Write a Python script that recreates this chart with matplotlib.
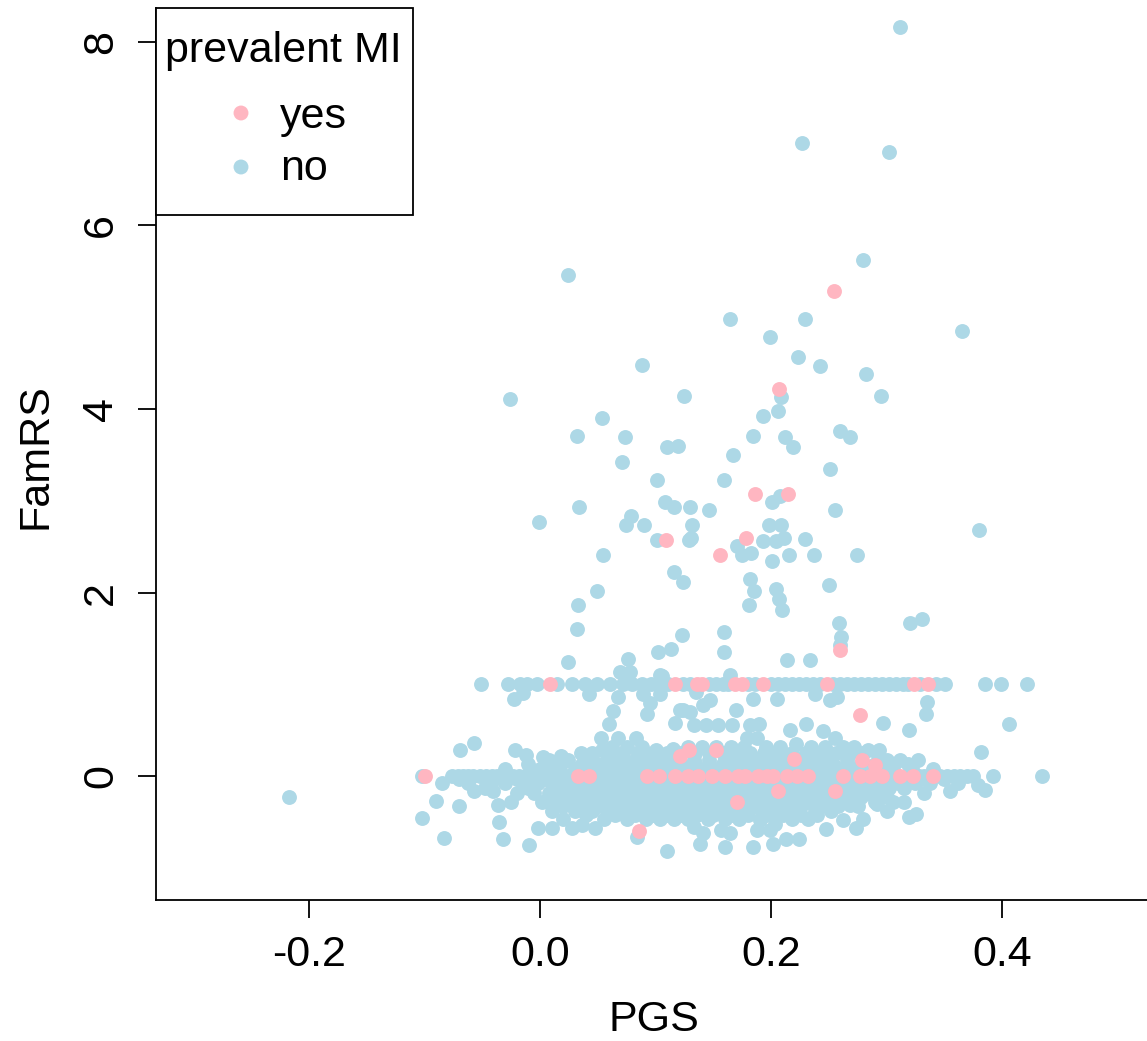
import matplotlib.pyplot as plt
from matplotlib.patches import Rectangle

plt.rcParams['font.family'] = ['Liberation Sans', 'DejaVu Sans']

# ---- data ----
# prevalent MI = no, scattered high FamRS values
no_hi_x = [0.0245, 0.280, 0.1645, 0.2297, 0.199, 0.088, 0.2237, 0.2427, 0.2825, -0.026,
           0.1247, 0.209, 0.2955, 0.0534, 0.1928, 0.2058, 0.0317, 0.0739, 0.1097, 0.1198,
           0.1844, 0.2124, 0.2193, 0.260, 0.268, 0.0707, 0.1674, 0.2508, 0.1013, 0.159,
           0.2078, 0.201, 0.034, 0.108, 0.1158, 0.130, 0.1466, 0.2554, -0.001, 0.0785,
           0.0745, 0.0903, 0.1316, 0.1983, 0.209, 0.1013, 0.1287, 0.131, 0.1928, 0.2043,
           0.2115, 0.2297, 0.0548, 0.1703, 0.1746, 0.1827, 0.2006, 0.2153, 0.2372, 0.2747,
           0.1158, 0.124, 0.1815, 0.1853, 0.204, 0.2072, 0.2093, 0.2505, 0.0494, 0.0326,
           0.181, 0.0323, 0.123, 0.1593, 0.259, 0.261, 0.320, 0.331,
           0.2268, 0.302, 0.3117, 0.365, 0.380,
           0.024, 0.0759, 0.069, 0.078, 0.102, 0.113, 0.106, 0.159, 0.260, 0.2136,
           0.2338, 0.1645, 0.104]
no_hi_y = [5.46, 5.62, 4.98, 4.98, 4.78, 4.48, 4.57, 4.47, 4.38, 4.11,
           4.14, 4.13, 4.14, 3.90, 3.92, 3.98, 3.71, 3.70, 3.59, 3.60,
           3.71, 3.69, 3.59, 3.76, 3.69, 3.42, 3.50, 3.35, 3.23, 3.23,
           3.05, 2.99, 2.93, 2.99, 2.93, 2.93, 2.90, 2.90, 2.77, 2.83,
           2.74, 2.74, 2.74, 2.74, 2.74, 2.57, 2.57, 2.59, 2.56, 2.56,
           2.59, 2.58, 2.41, 2.51, 2.41, 2.43, 2.34, 2.41, 2.41, 2.41,
           2.22, 2.11, 2.15, 2.02, 2.04, 1.93, 1.81, 2.08, 2.02, 1.86,
           1.86, 1.60, 1.54, 1.57, 1.67, 1.52, 1.67, 1.71,
           6.90, 6.80, 8.16, 4.85, 2.68,
           1.24, 1.28, 1.13, 1.13, 1.35, 1.39, 1.09, 1.35, 1.43, 1.26,
           1.26, 1.10, 1.10]

# prevalent MI = no, FamRS exactly 1 and exactly 0
no_fam1_x = [-0.0508, -0.0274, -0.0173, -0.0115, -0.0029, 0.0145, 0.0274, 0.0390, 0.0490, 0.0606,
             0.0719, 0.0800, 0.0880, 0.0960, 0.1040, 0.1110, 0.1240, 0.1300, 0.1460, 0.1520,
             0.1580, 0.1630, 0.1800, 0.1860, 0.2000, 0.2060, 0.2120, 0.2180, 0.2240, 0.2300,
             0.2360, 0.2420, 0.2540, 0.2600, 0.2660, 0.2720, 0.2780, 0.2840, 0.2900, 0.2960,
             0.3020, 0.3080, 0.3140, 0.3190, 0.3290, 0.3430, 0.3506, 0.3853, 0.3990, 0.4216]
no_fam0_x = [-0.1024, -0.0765, -0.0710, -0.0667, -0.0620, -0.0580, -0.0520, -0.0470, -0.0420, -0.0375,
             -0.0330, -0.0280, -0.0230, -0.0180, -0.0130, -0.0080, -0.0030, 0.0020, 0.0070, 0.0120,
             0.0170, 0.0230, 0.0280, 0.0380, 0.0480, 0.0530, 0.0590, 0.0650, 0.0700, 0.0760,
             0.0820, 0.0870, 0.0980, 0.1100, 0.1230, 0.1320, 0.1420, 0.1540, 0.1660, 0.1830,
             0.2070, 0.2180, 0.2270, 0.2370, 0.2430, 0.2480, 0.2530, 0.2580, 0.2680, 0.2720,
             0.2810, 0.2900, 0.3000, 0.3060, 0.3170, 0.3280, 0.3320, 0.3460, 0.3520, 0.3580,
             0.3640, 0.3700, 0.3750, 0.3920, 0.4350]

# prevalent MI = no, low scattered values
no_lo_x = [-0.0225, -0.015, 0.0427, 0.0678, 0.0895, 0.095, 0.0924, 0.0635, 0.060, 0.117,
           0.121, 0.104, 0.135, 0.147, 0.141, 0.124, 0.130, 0.1694, 0.133, 0.144,
           0.154, 0.166, 0.182, 0.190, 0.2165, 0.230, 0.245, 0.1847, 0.205, 0.238,
           0.251, 0.257, 0.3348, 0.334, 0.2973, 0.3197, 0.406, 0.382, 0.0528, 0.0673,
           0.0831, 0.2554, 0.179, 0.1876, 0.222,
           -0.0569, -0.0693, -0.0216, -0.0121, 0.0023, 0.0182, 0.0355, 0.0534, 0.1004, 0.1149,
           0.2938, 0.2843, 0.3275, 0.319,
           -0.090, -0.0701, -0.1022, -0.0831, -0.0569, -0.0404, -0.0366, -0.0352, -0.0323, -0.0095,
           -0.0014, 0.0101, 0.0274, 0.0366, 0.0476, 0.0837, 0.1097, 0.355, 0.3795, 0.3853,
           0.306, 0.3147, 0.2684, 0.2756, 0.2915, 0.3197, 0.3255, 0.262, 0.2736, 0.248,
           0.2136, 0.2035, 0.1905, 0.1876, 0.199, 0.1385, 0.1602, 0.1842, 0.202, 0.213,
           0.2245, 0.133, 0.141, 0.157, 0.1645, -0.217]
no_lo_y = [0.84, 0.91, 0.90, 0.86, 0.90, 0.80, 0.68, 0.71, 0.57, 0.58,
           0.72, 0.90, 0.92, 0.83, 0.77, 0.72, 0.70, 0.72, 0.56, 0.56,
           0.56, 0.56, 0.56, 0.57, 0.50, 0.57, 0.49, 0.84, 0.84, 0.90,
           0.83, 0.86, 0.81, 0.68, 0.58, 0.50, 0.57, 0.26, 0.41, 0.42,
           0.42, 0.42, 0.41, 0.41, 0.35,
           0.36, 0.28, 0.28, 0.23, 0.21, 0.22, 0.25, 0.28, 0.28, 0.30,
           0.28, 0.28, 0.18, 0.13,
           -0.27, -0.33, -0.46, -0.67, -0.16, -0.16, -0.31, -0.50, -0.69, -0.75,
           -0.56, -0.56, -0.56, -0.53, -0.56, -0.66, -0.82, -0.16, -0.10, -0.15,
           -0.28, -0.28, -0.32, -0.33, -0.30, -0.45, -0.41, -0.48, -0.57, -0.58,
           -0.41, -0.52, -0.48, -0.59, -0.59, -0.74, -0.77, -0.77, -0.74, -0.69,
           -0.69, -0.55, -0.62, -0.59, -0.62, -0.23]

# prevalent MI = no, the dense cloud around FamRS 0 (one row of PGS values per FamRS level)
core_levels = [0.32, 0.25, 0.18, 0.13, 0.08, -0.03, -0.08, -0.13, -0.18, -0.23, -0.28, -0.33,
               -0.38, -0.42, -0.47]
core_pgs = [
    [0.062, 0.075, 0.088, 0.128, 0.140, 0.152, 0.165, 0.177, 0.196, 0.208, 0.235, 0.247, 0.262, 0.272],
    [0.045, 0.060, 0.072, 0.085, 0.098, 0.110, 0.122, 0.134, 0.146, 0.158, 0.170, 0.182, 0.194, 0.206,
     0.218, 0.230, 0.242, 0.256, 0.268, 0.280, 0.292],
    [0.008, 0.024, 0.045, 0.058, 0.070, 0.082, 0.094, 0.106, 0.118, 0.133, 0.146, 0.160, 0.172, 0.184,
     0.197, 0.209, 0.228, 0.240, 0.252, 0.266, 0.300, 0.312],
    [-0.010, 0.005, 0.018, 0.036, 0.050, 0.062, 0.074, 0.086, 0.098, 0.110, 0.122, 0.134, 0.146, 0.158,
     0.170, 0.182, 0.194, 0.206, 0.218, 0.230, 0.242, 0.254, 0.266, 0.278, 0.290, 0.305],
    [-0.030, 0.000, 0.015, 0.030, 0.042, 0.054, 0.066, 0.078, 0.090, 0.102, 0.114, 0.126, 0.138, 0.150,
     0.162, 0.174, 0.186, 0.198, 0.210, 0.222, 0.234, 0.246, 0.258, 0.270, 0.282, 0.294, 0.306, 0.322, 0.340],
    [-0.070, -0.040, -0.020, 0.004, 0.016, 0.028, 0.040, 0.052, 0.064, 0.076, 0.088, 0.100, 0.112,
     0.124, 0.136, 0.148, 0.160, 0.172, 0.184, 0.196, 0.208, 0.220, 0.232, 0.244, 0.256, 0.268, 0.280,
     0.292, 0.304, 0.316, 0.330, 0.350],
    [-0.085, -0.062, -0.045, -0.030, -0.015, -0.002, 0.010, 0.022, 0.034, 0.046, 0.058, 0.070, 0.082,
     0.094, 0.106, 0.118, 0.130, 0.142, 0.154, 0.166, 0.178, 0.190, 0.202, 0.214, 0.226, 0.238, 0.250,
     0.262, 0.274, 0.286, 0.298, 0.310, 0.325, 0.338, 0.362],
    [-0.048, -0.010, 0.014, 0.026, 0.038, 0.050, 0.062, 0.074, 0.086, 0.098, 0.110, 0.122, 0.134, 0.146,
     0.158, 0.170, 0.182, 0.194, 0.206, 0.218, 0.230, 0.242, 0.254, 0.266, 0.278, 0.290, 0.302, 0.315],
    [-0.020, -0.005, 0.008, 0.020, 0.032, 0.044, 0.056, 0.068, 0.080, 0.092, 0.104, 0.116, 0.128, 0.140,
     0.152, 0.164, 0.176, 0.188, 0.200, 0.212, 0.224, 0.236, 0.248, 0.260, 0.272, 0.284, 0.296, 0.332],
    [0.008, 0.022, 0.034, 0.046, 0.058, 0.070, 0.082, 0.094, 0.106, 0.118, 0.130, 0.142, 0.154, 0.166,
     0.178, 0.190, 0.202, 0.214, 0.226, 0.238, 0.250, 0.262, 0.278, 0.300],
    [-0.025, 0.002, 0.015, 0.028, 0.040, 0.052, 0.064, 0.076, 0.088, 0.100, 0.112, 0.124, 0.136, 0.148,
     0.160, 0.172, 0.184, 0.196, 0.208, 0.220, 0.232, 0.244, 0.256, 0.290],
    [0.020, 0.036, 0.050, 0.066, 0.078, 0.090, 0.102, 0.114, 0.126, 0.138, 0.150, 0.162, 0.174, 0.186,
     0.198, 0.210, 0.226, 0.244, 0.258],
    [0.010, 0.030, 0.045, 0.060, 0.072, 0.084, 0.096, 0.108, 0.120, 0.132, 0.144, 0.156, 0.168, 0.180,
     0.192, 0.204, 0.222, 0.238, 0.252, 0.300],
    [0.040, 0.065, 0.082, 0.098, 0.110, 0.122, 0.136, 0.150, 0.166, 0.180, 0.196, 0.210, 0.226, 0.240],
    [0.020, 0.055, 0.075, 0.092, 0.104, 0.116, 0.128, 0.145, 0.160, 0.172, 0.218, 0.232, 0.280],
]

# prevalent MI = yes
yes_x = [0.2545, 0.2066, 0.1864, 0.215, 0.1088, 0.1781, 0.1556, 0.260, 0.277,
         0.0087, 0.117, 0.1357, 0.140, 0.1688, 0.1746, 0.1933, 0.2482, 0.3238, 0.3357,
         0.1212, 0.1293, 0.152, 0.2202, 0.279, 0.290,
         -0.0996, 0.0332, 0.0427, 0.0924, 0.1033, 0.117, 0.1284, 0.137, 0.1487, 0.1602,
         0.1717, 0.1775, 0.189, 0.1963, 0.202, 0.2136, 0.2222, 0.2323, 0.2626, 0.277,
         0.2857, 0.2958, 0.3117, 0.3232, 0.3405,
         0.2058, 0.2554, 0.1703, 0.086]
yes_y = [5.29, 4.22, 3.07, 3.07, 2.57, 2.59, 2.41, 1.37, 0.67,
         1, 1, 1, 1, 1, 1, 1, 1, 1, 1,
         0.22, 0.28, 0.28, 0.19, 0.18, 0.12,
         0, 0, 0, 0, 0, 0, 0, 0, 0, 0,
         0, 0, 0, 0, 0, 0, 0, 0, 0, 0,
         0, 0, 0, 0, 0,
         -0.16, -0.16, -0.28, -0.60]

x_ticks = [-0.2, 0.0, 0.2, 0.4]
x_tick_labels = ['-0.2', '0.0', '0.2', '0.4']
y_ticks = [0, 2, 4, 6, 8]

col_no = '#ADD8E6'   # lightblue
col_yes = '#FFB6C1'  # lightpink
W, H = 1147, 1041
dot = 115

fig = plt.figure(figsize=(W / 100, H / 100), dpi=100)
ax = fig.add_axes([156 / W, 1 - 900 / H, 1 - 156 / W, (900 - 8) / H])

pt = dict(s=dot, linewidths=0, zorder=2)
ax.scatter(no_fam0_x, [0] * len(no_fam0_x), color=col_no, **pt)
ax.scatter(no_fam1_x, [1] * len(no_fam1_x), color=col_no, **pt)
for lev, xs in zip(core_levels, core_pgs):
    ax.scatter(xs, [lev] * len(xs), color=col_no, **pt)
ax.scatter(no_lo_x, no_lo_y, color=col_no, **pt)
ax.scatter(no_hi_x, no_hi_y, color=col_no, **pt)
ax.scatter(yes_x, yes_y, color=col_yes, **pt)

ax.set_xlim(-0.3325, 0.5255)
ax.set_ylim(-1.35, 8.37)

for side in ['top', 'right']:
    ax.spines[side].set_visible(False)
for side in ['left', 'bottom']:
    ax.spines[side].set_linewidth(1.3)

ax.set_xticks(x_ticks)
ax.set_xticklabels(x_tick_labels)
ax.set_yticks(y_ticks)
ax.set_yticklabels([str(v) for v in y_ticks], rotation=90, va='center')
ax.tick_params(length=13, width=1.3, labelsize=31, pad=12)

fig.text(654 / W, 1 - 1020 / H, 'PGS', fontsize=31, ha='center', va='center')
fig.text(35 / W, 1 - 456 / H, 'FamRS', fontsize=31, ha='center', va='center', rotation=90)

# legend box (drawn by hand to sit like the R one)
fig.patches.append(Rectangle((156 / W, 1 - 215 / H), (413 - 156) / W, (215 - 8) / H,
                             transform=fig.transFigure, facecolor='white',
                             edgecolor='black', linewidth=1.3, zorder=5))
fig.text(165 / W, 1 - 62 / H, 'prevalent MI', fontsize=31, ha='left', va='baseline', zorder=6)
leg_ax = fig.add_axes([0, 0, 1, 1], facecolor='none', zorder=7)
leg_ax.set_xlim(0, W)
leg_ax.set_ylim(H, 0)
leg_ax.axis('off')
leg_ax.scatter([241, 241], [113, 167], color=[col_yes, col_no], s=dot, linewidths=0)
fig.text(280 / W, 1 - 128 / H, 'yes', fontsize=31, ha='left', va='baseline', zorder=8)
fig.text(280 / W, 1 - 180 / H, 'no', fontsize=31, ha='left', va='baseline', zorder=8)

fig.savefig('out.png', dpi=100)
